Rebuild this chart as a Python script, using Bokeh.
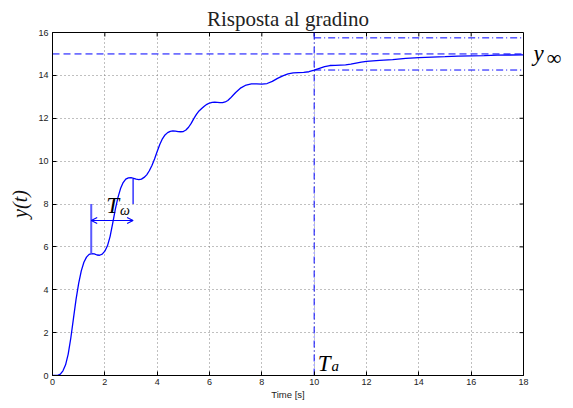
from bokeh.plotting import figure
from bokeh.models import Label, Arrow, OpenHead, LinearAxis, FixedTicker
from bokeh.embed import file_html
from bokeh.resources import INLINE

# ---- data ----
time_s = [0.0, 0.1, 0.2, 0.3, 0.4, 0.5, 0.6, 0.7, 0.8, 0.9,
          1.0, 1.1, 1.2, 1.3, 1.4, 1.5, 1.6, 1.7, 1.8, 1.9,
          2.0, 2.1, 2.2, 2.3, 2.4, 2.5, 2.6, 2.7, 2.8, 2.9,
          3.0, 3.1, 3.2, 3.3, 3.4, 3.5, 3.6, 3.7, 3.8, 3.9,
          4.0, 4.1, 4.2, 4.3, 4.4, 4.5, 4.6, 4.7, 4.8, 4.9,
          5.0, 5.1, 5.2, 5.3, 5.4, 5.5, 5.6, 5.7, 5.8, 5.9,
          6.0, 6.1, 6.2, 6.3, 6.4, 6.5, 6.6, 6.7, 6.8, 6.9,
          7.0, 7.2, 7.4, 7.6, 7.8, 8.0, 8.2, 8.4, 8.6, 8.8,
          9.0, 9.2, 9.4, 9.6, 9.8, 10.0, 10.2, 10.4, 10.6, 10.8,
          11.0, 11.2, 11.4, 11.6, 11.8, 12.0, 12.5, 13.0, 13.5, 14.0,
          14.5, 15.0, 15.5, 16.0, 16.5, 17.0, 17.5, 18.0]
response = [0.0, 0.0, 0.01, 0.06, 0.22, 0.5, 1.0, 1.75, 2.65, 3.55,
            4.3, 4.88, 5.28, 5.52, 5.65, 5.69, 5.67, 5.62, 5.61, 5.66,
            5.8, 6.05, 6.48, 7.1, 7.75, 8.3, 8.72, 9.0, 9.16, 9.22,
            9.23, 9.2, 9.16, 9.14, 9.16, 9.24, 9.36, 9.55, 9.8, 10.1,
            10.45, 10.78, 11.04, 11.22, 11.33, 11.39, 11.41, 11.4, 11.38, 11.37,
            11.38, 11.45, 11.58, 11.76, 11.98, 12.18, 12.34, 12.45, 12.56, 12.65,
            12.71, 12.74, 12.75, 12.74, 12.73, 12.73, 12.76, 12.83, 12.94, 13.07,
            13.2, 13.42, 13.55, 13.6, 13.6, 13.59, 13.62, 13.72, 13.86, 13.98,
            14.07, 14.12, 14.13, 14.14, 14.17, 14.24, 14.33, 14.41, 14.46, 14.47,
            14.48, 14.49, 14.52, 14.57, 14.62, 14.65, 14.7, 14.73, 14.79, 14.83,
            14.85, 14.87, 14.9, 14.91, 14.92, 14.94, 14.95, 14.96]

y_inf = 15.0
band_frac = 0.05
T_a = 10.0
T_w_start = 1.48
T_w_end = 3.08
T_w_arrow_y = 7.23
T_w_mark_top = 8.0
T_w_low_start = 5.68
T_w_high_end = 9.17
x_ticks = [0, 2, 4, 6, 8, 10, 12, 14, 16, 18]
y_ticks = [0, 2, 4, 6, 8, 10, 12, 14, 16]

BLUE = "#0000ff"
SERIF = "Liberation Serif"
SANS = "Liberation Sans"

W, H = 573, 408
BL, BR, BT, BB = 52, 50, 32, 33

p = figure(width=W, height=H, x_range=(x_ticks[0], x_ticks[-1]), y_range=(y_ticks[0], y_ticks[-1]),
           output_backend="svg", toolbar_location=None,
           min_border_left=BL, min_border_right=BR,
           min_border_top=BT, min_border_bottom=BB,
           title="Risposta al gradino")
p.title.align = "center"
p.title.text_font = SERIF
p.title.text_font_style = "normal"
p.title.text_font_size = "21px"
p.title.text_color = "#222222"
p.title.standoff = 4
p.outline_line_color = "black"
p.outline_line_width = 1
p.background_fill_color = "white"
p.border_fill_color = "white"

for ax in (p.xaxis[0], p.yaxis[0]):
    ax.major_tick_in = 4
    ax.major_tick_out = 0
    ax.minor_tick_in = 0
    ax.minor_tick_out = 0
    ax.major_label_text_font = SANS
    ax.major_label_text_font_size = "9px"
    ax.major_label_text_color = "#222222"
    ax.axis_line_color = "black"
    ax.major_tick_line_color = "black"
p.xaxis[0].ticker = FixedTicker(ticks=x_ticks)
p.yaxis[0].ticker = FixedTicker(ticks=y_ticks)
p.xaxis[0].major_label_standoff = 3
p.yaxis[0].major_label_standoff = 4
p.xaxis[0].axis_label = "Time [s]"
p.xaxis[0].axis_label_text_font = SANS
p.xaxis[0].axis_label_text_font_style = "normal"
p.xaxis[0].axis_label_text_font_size = "9.5px"
p.xaxis[0].axis_label_text_color = "#222222"
p.xaxis[0].axis_label_standoff = 1
p.yaxis[0].axis_label = "y(t)"
p.yaxis[0].axis_label_text_font = SERIF
p.yaxis[0].axis_label_text_font_style = "italic"
p.yaxis[0].axis_label_text_font_size = "20px"
p.yaxis[0].axis_label_text_color = "#111111"
p.yaxis[0].axis_label_standoff = 4

# y_infinity label on the right side (as axis labels so it sits outside the frame)
y_lab_ax = LinearAxis(ticker=FixedTicker(ticks=[y_inf]), major_label_overrides={y_inf: "y"},
                      major_tick_in=0, major_tick_out=0, minor_tick_in=0, minor_tick_out=0,
                      axis_line_color=None, major_label_standoff=10,
                      major_label_text_font=SERIF, major_label_text_font_style="italic",
                      major_label_text_font_size="23px", major_label_text_color="black")
inf_pos = 14.82
inf_ax = LinearAxis(ticker=FixedTicker(ticks=[inf_pos]), major_label_overrides={inf_pos: "∞"},
                    major_tick_in=0, major_tick_out=0, minor_tick_in=0, minor_tick_out=0,
                    axis_line_color=None, major_label_standoff=0,
                    major_label_text_font=SERIF, major_label_text_font_style="normal",
                    major_label_text_font_size="21px", major_label_text_color="black")
p.add_layout(y_lab_ax, "right")
p.add_layout(inf_ax, "right")

p.xgrid.ticker = FixedTicker(ticks=x_ticks)
p.ygrid.ticker = FixedTicker(ticks=y_ticks)
for g in (p.xgrid[0], p.ygrid[0]):
    g.grid_line_color = "#808080"
    g.grid_line_dash = "1 3"
    g.grid_line_width = 1

# inward tick marks on top and right edges (4 px long)
frame_w = W - BL - BR
frame_h = H - BT - BB
dx = 4 * (x_ticks[-1] - x_ticks[0]) / frame_w
dy = 4 * (y_ticks[-1] - y_ticks[0]) / frame_h
p.segment(x0=x_ticks, y0=[y_ticks[-1]] * len(x_ticks), x1=x_ticks,
          y1=[y_ticks[-1] - dy] * len(x_ticks), line_color="black", line_width=1)
p.segment(x0=[x_ticks[-1]] * len(y_ticks), y0=y_ticks, x1=[x_ticks[-1] - dx] * len(y_ticks),
          y1=y_ticks, line_color="black", line_width=1)

# reference lines
x0, x1 = time_s[0], time_s[-1]
p.line([x0, x1], [y_inf, y_inf], line_color=BLUE, line_width=1, line_dash="7 4")
p.line([T_a, x1], [y_inf * (1 + band_frac)] * 2, line_color=BLUE, line_width=1, line_dash="7 3 1 3")
p.line([T_a, x1], [y_inf * (1 - band_frac)] * 2, line_color=BLUE, line_width=1, line_dash="7 3 1 3")
p.line([T_a, T_a], [y_ticks[0], y_ticks[-1]], line_color=BLUE, line_width=1, line_dash="7 3 1 3")

# response
p.line(time_s, response, line_color=BLUE, line_width=1.3)

# T_omega marks
p.line([T_w_start, T_w_start], [T_w_low_start, T_w_mark_top], line_color="#5a5aff", line_width=2)
p.line([T_w_end, T_w_end], [T_w_mark_top, T_w_high_end], line_color=BLUE, line_width=1.2)
p.add_layout(Arrow(start=OpenHead(size=6, line_color=BLUE, line_width=1.2),
                   end=OpenHead(size=6, line_color=BLUE, line_width=1.2),
                   x_start=T_w_start, y_start=T_w_arrow_y, x_end=T_w_end, y_end=T_w_arrow_y,
                   line_color=BLUE, line_width=1.2))

def lab(x, y, text, size):
    p.add_layout(Label(x=x, y=y, text=text, text_font=SERIF, text_font_style="italic",
                       text_font_size=size, text_color="black", text_baseline="alphabetic",
                       text_align="left"))

lab(2.05, 7.93, "T", "23px")
lab(2.58, 7.72, "ω", "14px")
lab(10.14, 0.55, "T", "23px")
lab(10.66, 0.42, "a", "15px")

open("out.html", "w").write(file_html(p, INLINE))
